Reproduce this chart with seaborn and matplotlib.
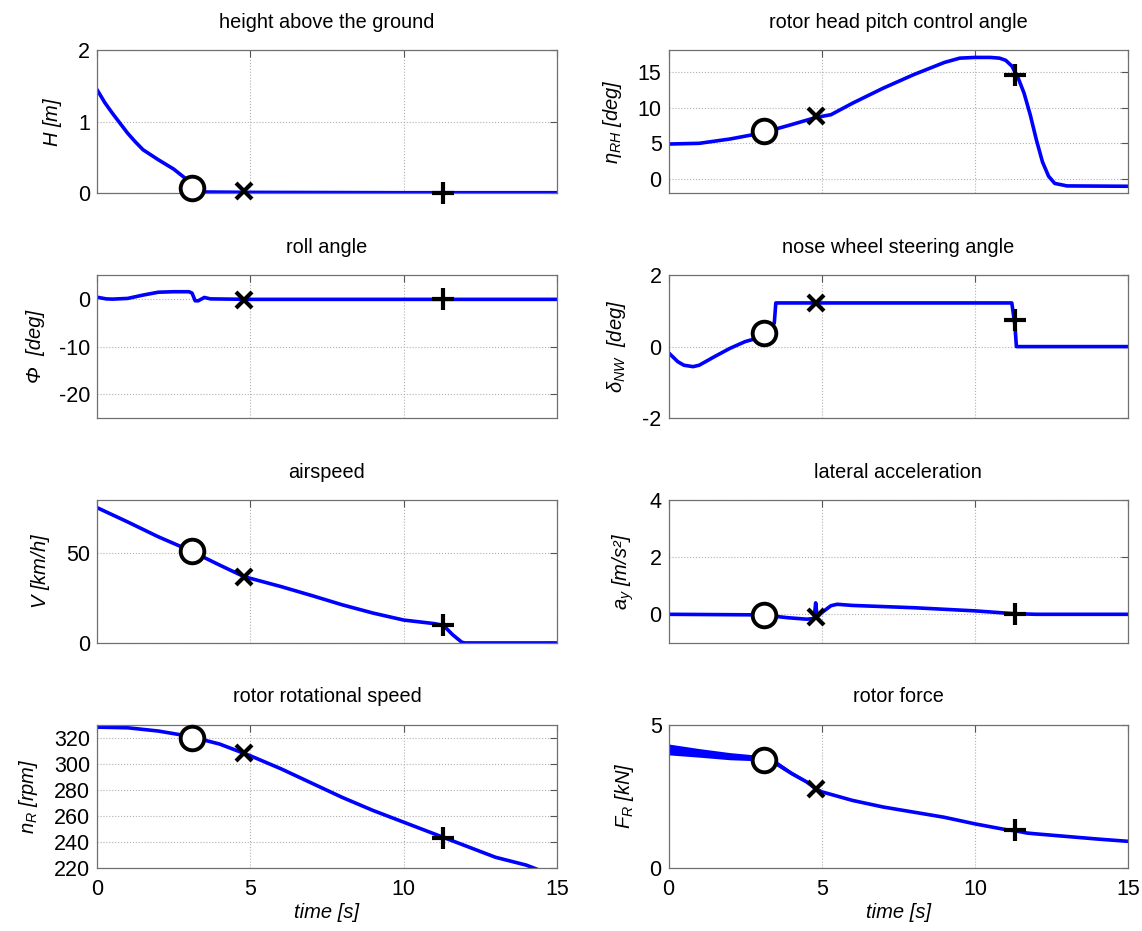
import matplotlib
matplotlib.use("Agg")
import matplotlib.pyplot as plt
import pandas as pd
import seaborn as sns

# event times: circle, cross, plus
t_marks = [3.1, 4.8, 11.3]

# height above the ground
H_t = [0, 0.25, 0.5, 0.75, 1.0, 1.25, 1.5, 2.0, 2.5, 3.0, 3.2, 3.5, 5, 10, 15]
H_v = [1.45, 1.27, 1.12, 0.98, 0.84, 0.72, 0.61, 0.47, 0.34, 0.17, 0.05, 0.02, 0.015, 0.01, 0.01]
H_marks = [0.08, 0.03, 0.0]

# rotor head pitch control angle
eta_t = [0, 1, 2, 3, 4, 4.8, 5.3, 6, 7, 8, 9, 9.5, 10, 10.5, 10.8, 11, 11.2, 11.4, 11.6, 11.8, 12, 12.2, 12.4, 12.6, 13, 15]
eta_v = [4.9, 5.0, 5.6, 6.4, 7.6, 8.6, 9.0, 10.6, 12.7, 14.6, 16.3, 16.9, 17.0, 17.0, 16.9, 16.6, 15.8, 14.2, 12.0, 9.0, 5.5, 2.4, 0.4, -0.6, -0.95, -1.0]
eta_marks = [6.7, 8.8, 14.6]

# roll angle
phi_t = [0, 0.3, 0.5, 1.0, 1.5, 2.0, 2.5, 3.0, 3.1, 3.2, 3.3, 3.5, 3.7, 5, 10, 15]
phi_v = [0.35, 0.0, -0.05, 0.1, 0.8, 1.4, 1.5, 1.5, 1.2, -0.4, -0.4, 0.3, 0.0, -0.1, -0.1, -0.1]
phi_marks = [None, -0.3, 0.0]

# nose wheel steering angle
nw_t = [0, 0.3, 0.5, 0.8, 1.0, 1.5, 2.0, 2.5, 3.0, 3.3, 3.45, 3.5, 11.2, 11.3, 11.35, 15]
nw_v = [-0.17, -0.42, -0.52, -0.56, -0.52, -0.28, -0.05, 0.14, 0.26, 0.47, 0.66, 1.22, 1.22, 0.6, 0.0, 0.0]
nw_marks = [0.38, 1.22, 0.73]

# airspeed
V_t = [0, 1, 2, 3, 4, 4.8, 5, 6, 7, 8, 9, 10, 11, 11.3, 11.6, 11.9, 12, 15]
V_v = [75.6, 67.6, 59.3, 51.9, 43.5, 37.0, 36.1, 31.5, 26.5, 21.3, 16.7, 12.8, 10.8, 9.8, 4.6, 0.4, 0.0, 0.0]
V_marks = [51.5, 37.0, 10.0]

# lateral acceleration
ay_t = [0, 3.0, 3.3, 3.9, 4.5, 4.75, 4.8, 4.85, 5.0, 5.3, 5.5, 6, 8, 10, 11.3, 12, 15]
ay_v = [0.0, -0.02, -0.05, -0.12, -0.17, -0.15, 0.4, -0.1, 0.06, 0.3, 0.35, 0.31, 0.23, 0.12, 0.02, 0.0, 0.0]
ay_marks = [-0.03, -0.08, 0.0]

# rotor rotational speed
nR_t = [0, 1, 2, 3, 4, 5, 6, 7, 8, 9, 10, 11, 12, 13, 14, 15]
nR_v = [328, 327.5, 325, 321, 315, 306, 296, 285, 274, 264, 255, 246, 237, 228, 222, 213]
nR_marks = [320, 308, 243]

# rotor force, centre line plus oscillation envelope at the start
F_t = [0, 1, 2, 3, 3.5, 4, 4.5, 4.8, 5, 6, 7, 8, 9, 10, 11, 11.3, 11.7, 12, 13, 14, 15]
F_v = [4.12, 4.0, 3.88, 3.82, 3.65, 3.3, 3.0, 2.76, 2.65, 2.35, 2.12, 1.94, 1.76, 1.53, 1.33, 1.29, 1.21, 1.18, 1.09, 1.0, 0.92]
F_band_t = [0, 1, 2, 3, 3.5, 4, 4.5, 5]
F_hi = [4.32, 4.16, 4.02, 3.92, 3.75, 3.38, 3.06, 2.7]
F_lo = [3.94, 3.86, 3.77, 3.73, 3.57, 3.24, 2.95, 2.6]
F_marks = [3.75, 2.76, 1.3]

panels = [
    ("height above the ground", "$H$ [m]", H_t, H_v, H_marks, (0, 2), [0, 1, 2]),
    ("rotor head pitch control angle", r"$\eta_{RH}$ [deg]", eta_t, eta_v, eta_marks, (-2, 18), [0, 5, 10, 15]),
    ("roll angle", "Φ  [deg]", phi_t, phi_v, phi_marks, (-25, 5), [-20, -10, 0]),
    ("nose wheel steering angle", r"$\delta_{NW}$  [deg]", nw_t, nw_v, nw_marks, (-2, 2), [-2, 0, 2]),
    ("airspeed", "$V$ [km/h]", V_t, V_v, V_marks, (0, 80), [0, 50]),
    ("lateral acceleration", "$a_y$ [m/s²]", ay_t, ay_v, ay_marks, (-1, 4), [0, 2, 4]),
    ("rotor rotational speed", "$n_R$ [rpm]", nR_t, nR_v, nR_marks, (220, 330), [220, 240, 260, 280, 300, 320]),
    ("rotor force", "$F_R$ [kN]", F_t, F_v, F_marks, (0, 5), [0, 5]),
]

sns.set_style("white")
plt.rcParams['font.family'] = ['Liberation Sans', 'DejaVu Sans']
plt.rcParams['mathtext.fontset'] = 'custom'
plt.rcParams['mathtext.it'] = 'Liberation Sans:italic'
plt.rcParams['mathtext.rm'] = 'Liberation Sans:italic'
plt.rcParams['axes.unicode_minus'] = False
plt.rcParams['text.color'] = 'black'
plt.rcParams['axes.labelcolor'] = 'black'
plt.rcParams['xtick.color'] = 'black'
plt.rcParams['ytick.color'] = 'black'

fig, axes = plt.subplots(4, 2, figsize=(11.42, 9.31), dpi=100)
fig.subplots_adjust(left=0.085, right=0.988, bottom=0.068, top=0.946, wspace=0.243, hspace=0.57)

mark_styles = [
    dict(marker='o', markersize=17, mfc='white', mec='black', mew=2.8),
    dict(marker='x', markersize=12, mec='black', mew=3),
    dict(marker='+', markersize=16, mec='black', mew=3),
]

for ax, (title, ylabel, tt, vv, marks, ylim, yticks) in zip(axes.flat, panels):
    df = pd.DataFrame({'t': tt, 'v': vv})
    if title == "rotor force":
        ax.fill_between(F_band_t, F_lo, F_hi, color='#0000ff', lw=0)
    sns.lineplot(data=df, x='t', y='v', ax=ax, color='#0000ff', lw=2.6,
                 estimator=None, sort=False)
    for tm, ym, st in zip(t_marks, marks, mark_styles):
        if ym is None:
            continue
        ax.plot([tm], [ym], ls='none', zorder=5, clip_on=False, **st)

    ax.set_xlim(0, 15)
    ax.set_ylim(*ylim)
    ax.set_xticks([0, 5, 10, 15])
    ax.set_yticks(yticks)
    ax.set_title(title, fontsize=14.3, pad=16)
    ax.set_ylabel(ylabel, fontsize=14.5, style='italic', labelpad=10)
    ax.set_xlabel('')
    ax.grid(True, ls=':', color='#b0b0b0', lw=0.8)
    ax.tick_params(direction='in', top=True, right=True, length=5, width=0.8,
                   color='#555555', labelsize=15.5)
    ax.tick_params(axis='y', pad=5)
    ax.tick_params(axis='x', pad=8)
    for sp in ax.spines.values():
        sp.set_color('#707070')
        sp.set_linewidth(0.9)

for ax in axes[:3].flat:
    ax.tick_params(labelbottom=False)
for ax in axes[3]:
    ax.set_xlabel('time [s]', fontsize=14.5, style='italic', labelpad=2)

fig.savefig('out.png', dpi=100, facecolor='white')
